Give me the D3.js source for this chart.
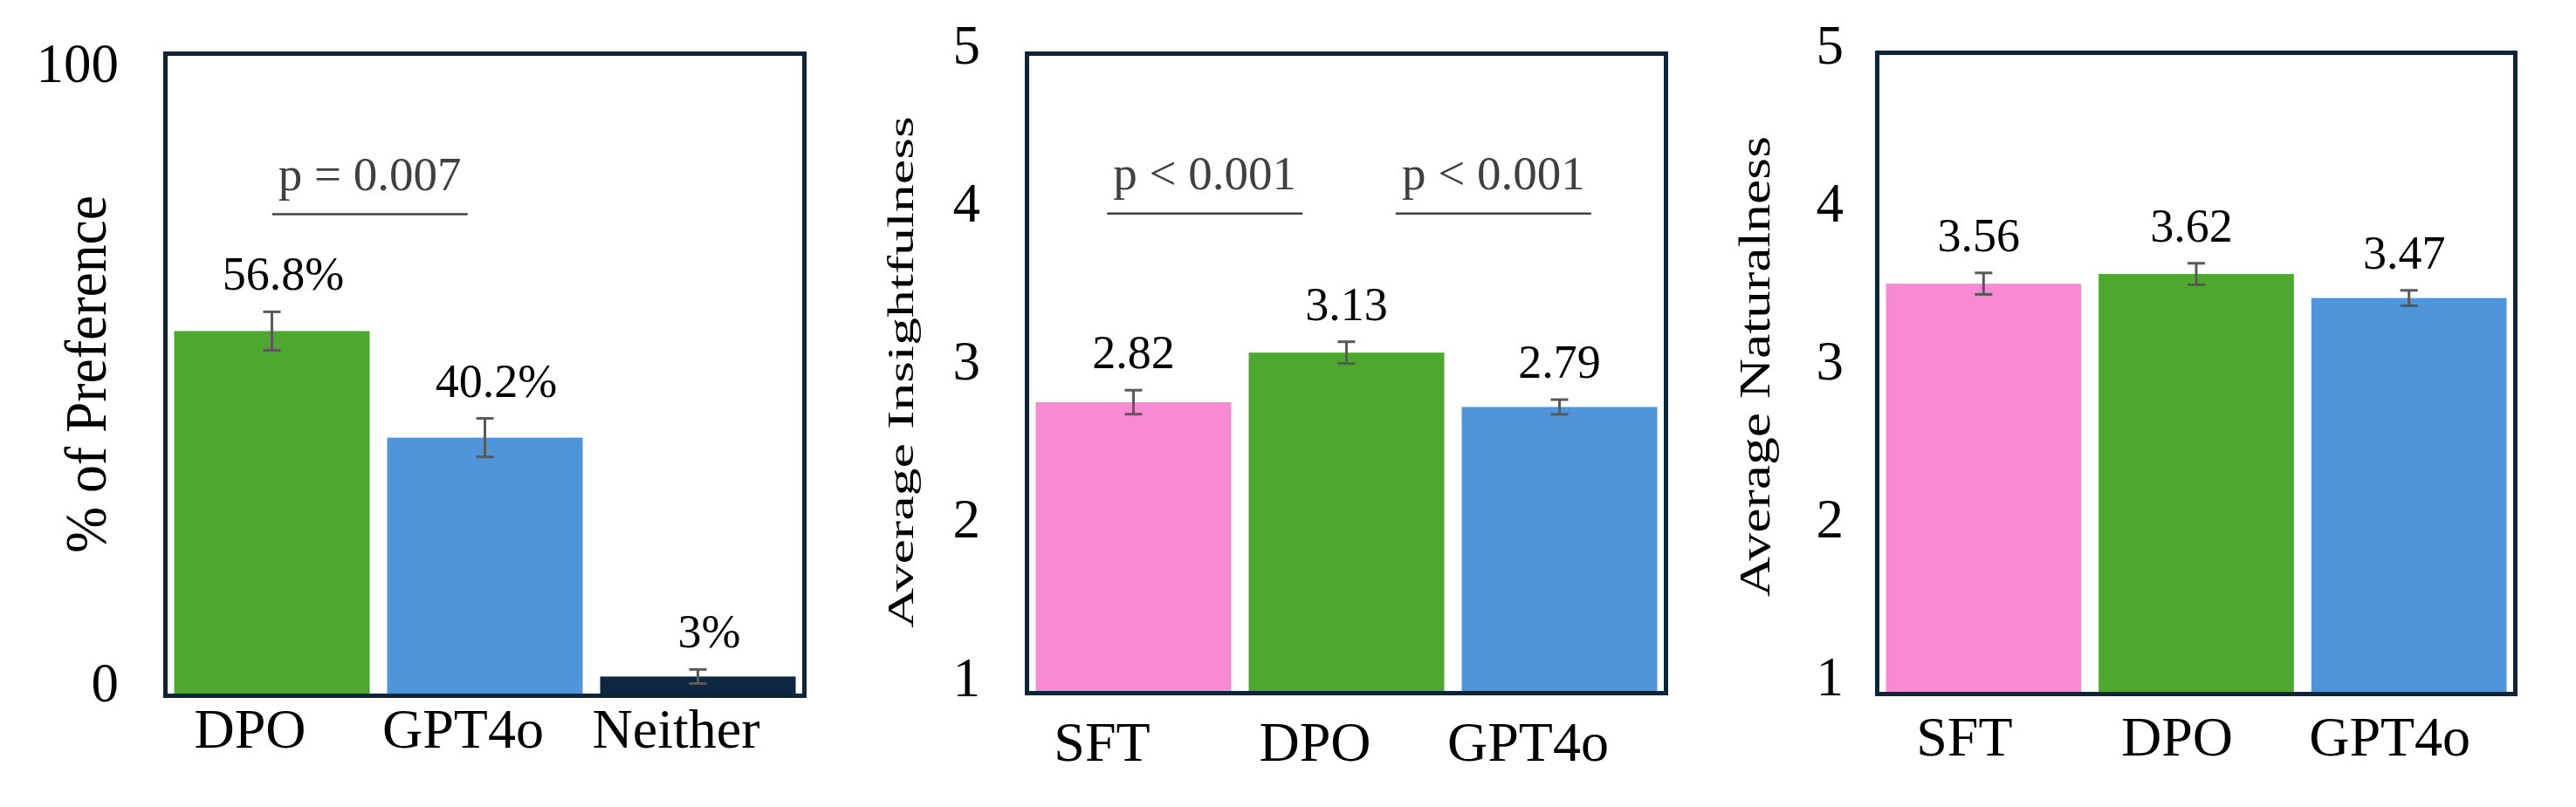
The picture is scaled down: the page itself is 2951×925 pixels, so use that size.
<!DOCTYPE html>
<html>
<head>
<meta charset="utf-8">
<script src="https://cdn.jsdelivr.net/npm/d3@7"></script>
<style>
  body { margin: 0; background: #fff; }
  text { font-family: "Liberation Serif", "Times New Roman", serif; }
</style>
</head>
<body>
<svg id="chart"></svg>
<script>
// data
const prefCategories = ["DPO", "GPT4o", "Neither"];
const prefValues = [56.8, 40.2, 3];
const prefErrors = [3.0, 3.0, 1.1];
const prefLabels = ["56.8%", "40.2%", "3%"];
const prefTicks = [0, 100];
const prefColors = ["#4EA72E", "#4E95D9", "#0E2841"];
const prefNotes = [{ text: "p = 0.007", pos: 0.46, y: 75 }];

const modelCategories = ["SFT", "DPO", "GPT4o"];
const insightValues = [2.82, 3.13, 2.79];
const insightErrors = [0.075, 0.068, 0.046];
const insightLabels = ["2.82", "3.13", "2.79"];
const insightNotes = [
  { text: "p < 0.001", pos: 0.335, y: 4 },
  { text: "p < 0.001", pos: 1.69, y: 4 }
];

const naturalValues = [3.56, 3.62, 3.47];
const naturalErrors = [0.067, 0.067, 0.048];
const naturalLabels = ["3.56", "3.62", "3.47"];

const scoreTicks = [1, 2, 3, 4, 5];
const modelColors = ["#F78AD3", "#4EA72E", "#4E95D9"];

const W = 2951, H = 925;
const svg = d3.select("#chart").attr("width", W).attr("height", H);
svg.append("rect").attr("width", W).attr("height", H).attr("fill", "#fff");

function drawPanel(cfg) {
  const x = d3.scaleBand()
    .domain(cfg.categories)
    .range([cfg.left, cfg.right])
    .paddingInner(0.082)
    .paddingOuter(0.041);
  const y = d3.scaleLinear()
    .domain(cfg.domain)
    .range([cfg.bottom, cfg.top]);
  const rows = cfg.categories.map((c, i) => ({
    cat: c, value: cfg.values[i], err: cfg.errors[i], label: cfg.labels[i], color: cfg.colors[i]
  }));
  const g = svg.append("g");

  // bars
  g.selectAll("rect.bar")
    .data(rows)
    .join("rect")
      .attr("class", "bar")
      .attr("x", d => x(d.cat))
      .attr("width", x.bandwidth())
      .attr("y", d => y(d.value))
      .attr("height", d => y(cfg.domain[0]) - y(d.value))
      .attr("fill", d => d.color);

  // error bars
  const eb = g.selectAll("g.err")
    .data(rows)
    .join("g")
      .attr("class", "err")
      .attr("stroke", "#595959")
      .attr("stroke-width", 3);
  eb.append("line")
    .attr("x1", d => x(d.cat) + x.bandwidth() / 2)
    .attr("x2", d => x(d.cat) + x.bandwidth() / 2)
    .attr("y1", d => y(d.value - d.err))
    .attr("y2", d => y(d.value + d.err));
  [-1, 1].forEach(s => {
    eb.append("line")
      .attr("x1", d => x(d.cat) + x.bandwidth() / 2 - 10)
      .attr("x2", d => x(d.cat) + x.bandwidth() / 2 + 10)
      .attr("y1", d => y(d.value + s * d.err))
      .attr("y2", d => y(d.value + s * d.err));
  });

  // value labels
  g.selectAll("text.val")
    .data(rows)
    .join("text")
      .attr("class", "val")
      .attr("x", d => x(d.cat) + x.bandwidth() / 2 + cfg.valueDx)
      .attr("y", d => y(d.value + d.err) - 25)
      .attr("text-anchor", "middle")
      .style("font-size", "54px")
      .attr("fill", "#000")
      .text(d => d.label);

  // significance notes
  const step = x.step();
  const c0 = x(cfg.categories[0]) + x.bandwidth() / 2;
  const notes = g.selectAll("g.note")
    .data(cfg.notes)
    .join("g")
      .attr("class", "note");
  notes.append("line")
    .attr("x1", d => c0 + d.pos * step - x.bandwidth() / 2)
    .attr("x2", d => c0 + d.pos * step + x.bandwidth() / 2)
    .attr("y1", d => y(d.y))
    .attr("y2", d => y(d.y))
    .attr("stroke", "#404040")
    .attr("stroke-width", 2.5);
  notes.append("text")
    .attr("x", d => c0 + d.pos * step)
    .attr("y", d => y(d.y) - 28)
    .attr("text-anchor", "middle")
    .style("font-size", "55px")
    .attr("fill", "#404040")
    .text(d => d.text);

  // frame
  g.append("rect")
    .attr("x", cfg.left)
    .attr("y", cfg.top)
    .attr("width", cfg.right - cfg.left)
    .attr("height", cfg.bottom - cfg.top)
    .attr("fill", "none")
    .attr("stroke", "#0D2637")
    .attr("stroke-width", 5);

  // y tick labels
  const yLabel = d3.scaleLinear().domain(cfg.domain).range(cfg.labelRange);
  const yAxis = g.append("g")
    .attr("transform", `translate(${cfg.tickX},0)`)
    .call(d3.axisLeft(yLabel).tickValues(cfg.ticks).tickFormat(d3.format("d")).tickSize(0).tickPadding(0));
  yAxis.select(".domain").remove();
  yAxis.selectAll("text")
    .attr("dy", 0)
    .attr("fill", "#000")
    .style("font-size", "63px")
    .style("font-family", "Liberation Serif, serif");

  // category labels
  const xAxis = g.append("g")
    .attr("transform", `translate(${cfg.catDx},${cfg.catBaseline})`)
    .call(d3.axisBottom(x).tickSize(0).tickPadding(0));
  xAxis.select(".domain").remove();
  xAxis.selectAll("text")
    .attr("y", 0)
    .attr("dy", 0)
    .attr("fill", "#000")
    .style("font-size", "64px")
    .style("font-family", "Liberation Serif, serif");

  // y title
  svg.append("text")
    .attr("transform", `translate(${cfg.title.x},${cfg.title.y}) rotate(-90)`)
    .attr("text-anchor", "middle")
    .attr("textLength", cfg.title.length)
    .attr("lengthAdjust", "spacingAndGlyphs")
    .style("font-size", cfg.title.size + "px")
    .attr("fill", "#000")
    .text(cfg.title.text);
}

drawPanel({
  categories: prefCategories, values: prefValues, errors: prefErrors, labels: prefLabels,
  colors: prefColors, notes: prefNotes, ticks: prefTicks, domain: [0, 100],
  left: 189.5, right: 921.5, top: 61.5, bottom: 797.5,
  tickX: 136, labelRange: [803.5, 93],
  catBaseline: 857, catDx: -25, valueDx: 13,
  title: { text: "% of Preference", x: 121, y: 429, size: 68, length: 410 }
});

drawPanel({
  categories: modelCategories, values: insightValues, errors: insightErrors, labels: insightLabels,
  colors: modelColors, notes: insightNotes, ticks: scoreTicks, domain: [1, 5],
  left: 1176.5, right: 1908.5, top: 61.5, bottom: 794.5,
  tickX: 1123, labelRange: [797, 72],
  catBaseline: 872, catDx: -36, valueDx: 0,
  title: { text: "Average Insightfulness", x: 1046, y: 426.5, size: 43, length: 587 }
});

drawPanel({
  categories: modelCategories, values: naturalValues, errors: naturalErrors, labels: naturalLabels,
  colors: modelColors, notes: [], ticks: scoreTicks, domain: [1, 5],
  left: 2150.5, right: 2881.5, top: 60.5, bottom: 795.5,
  tickX: 2112, labelRange: [796, 72],
  catBaseline: 866, catDx: -22, valueDx: -5.5,
  title: { text: "Average Naturalness", x: 2027, y: 420, size: 50, length: 528 }
});
</script>
</body>
</html>
